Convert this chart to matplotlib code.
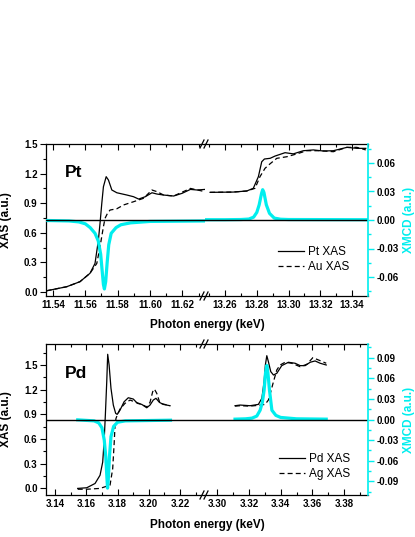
import matplotlib
matplotlib.use("Agg")
import matplotlib.pyplot as plt
from matplotlib.ticker import MultipleLocator, FormatStrFormatter
from matplotlib.lines import Line2D

plt.rcParams['font.family'] = ['Liberation Sans', 'DejaVu Sans']

CYAN = '#00EEEE'

# ---------------- Pt panel data ----------------
pt_left_x = [11.5361, 11.5485, 11.5567, 11.5629, 11.566, 11.5681, 11.5691, 11.5702, 11.5712, 11.5729,
             11.5743, 11.5764, 11.5795, 11.5857, 11.5898, 11.593, 11.5971, 11.6012, 11.6043, 11.6084,
             11.6146, 11.6198, 11.625, 11.6291, 11.634]
pt_left_y = [0.013, 0.054, 0.105, 0.19, 0.29, 0.527, 0.696, 0.90, 1.067, 1.169,
             1.135, 1.034, 1.006, 0.983, 0.966, 0.942, 0.966, 1.006, 0.993, 0.983,
             0.973, 1.0, 1.04, 1.034, 1.04]
au_left_x = [11.5361, 11.5485, 11.5567, 11.5629, 11.5671, 11.5691, 11.5712, 11.5722, 11.5737, 11.5753,
             11.5795, 11.5836, 11.5898, 11.596, 11.6012, 11.6043, 11.6084, 11.6146, 11.625, 11.634]
au_left_y = [0.013, 0.054, 0.105, 0.19, 0.29, 0.459, 0.662, 0.747, 0.797, 0.831,
             0.844, 0.882, 0.915, 0.95, 1.034, 1.017, 0.983, 0.973, 1.05, 1.017]
pt_mcd_left_x = [11.5357, 11.55, 11.556, 11.560, 11.563, 11.566, 11.568, 11.5695, 11.5705, 11.5712,
                 11.5718, 11.5726, 11.5735, 11.5745, 11.576, 11.579, 11.582, 11.588, 11.60, 11.634]
pt_mcd_left_y = [-0.0005, -0.001, -0.002, -0.004, -0.008, -0.014, -0.022, -0.036, -0.055, -0.068,
                 -0.0726, -0.065, -0.045, -0.026, -0.014, -0.008, -0.005, -0.003, -0.0015, -0.001]

pt_right_x = [13.2506, 13.2652, 13.2737, 13.2778, 13.281, 13.2831, 13.2848, 13.2884, 13.2915, 13.2978,
              13.303, 13.3093, 13.3156, 13.3219, 13.3282, 13.3367, 13.343, 13.3486]
pt_right_y = [1.01, 1.013, 1.024, 1.051, 1.169, 1.32, 1.348, 1.355, 1.378, 1.412,
              1.40, 1.432, 1.44, 1.429, 1.432, 1.466, 1.456, 1.456]
au_right_x = [13.2506, 13.2652, 13.2737, 13.2789, 13.282, 13.2852, 13.2884, 13.2926, 13.2989, 13.3052,
              13.3115, 13.32, 13.3282, 13.3367, 13.343, 13.3486]
au_right_y = [1.01, 1.013, 1.024, 1.051, 1.169, 1.254, 1.30, 1.355, 1.371, 1.40,
              1.432, 1.432, 1.422, 1.466, 1.466, 1.44]
pt_mcd_right_x = [13.2475, 13.26, 13.27, 13.275, 13.278, 13.280, 13.2815, 13.283, 13.2837, 13.2845,
                  13.286, 13.288, 13.291, 13.295, 13.30, 13.349]
pt_mcd_right_y = [0.0003, 0.0003, 0.0005, 0.001, 0.003, 0.008, 0.016, 0.028, 0.0319, 0.029,
                  0.016, 0.007, 0.002, 0.0008, 0.0005, 0.0003]

# ---------------- Pd panel data ----------------
pd_left_x = [3.1545, 3.1603, 3.1656, 3.1688, 3.1705, 3.1714, 3.1722, 3.1731, 3.1737, 3.1746,
             3.1758, 3.1773, 3.1788, 3.1798, 3.1816, 3.1842, 3.1869, 3.1901, 3.1927, 3.1955,
             3.1987, 3.2008, 3.2029, 3.2046, 3.2068, 3.2093, 3.2136]
pd_left_y = [0.0, 0.008, 0.06, 0.16, 0.32, 0.57, 0.89, 1.30, 1.63, 1.5,
             1.217, 1.013, 0.912, 0.90, 0.952, 1.053, 1.102, 1.086, 1.034, 1.021,
             0.98, 1.013, 1.074, 1.095, 1.046, 1.021, 1.005]
ag_left_x = [3.1545, 3.1603, 3.1688, 3.1752, 3.1769, 3.1779, 3.1784, 3.179, 3.1798, 3.1816,
             3.1848, 3.188, 3.1912, 3.1955, 3.1987, 3.2008, 3.2025, 3.2036, 3.2051, 3.2072,
             3.2102, 3.2136]
ag_left_y = [-0.01, -0.01, 0.0, 0.04, 0.24, 0.567, 0.77, 0.85, 0.89, 0.965,
             1.034, 1.074, 1.05, 1.021, 0.99, 1.046, 1.175, 1.207, 1.156, 1.034,
             1.021, 1.005]
pd_mcd_left_x = [3.1545, 3.165, 3.168, 3.170, 3.1715, 3.1725, 3.1732, 3.1736, 3.174, 3.1748,
                 3.1758, 3.1775, 3.180, 3.185, 3.2139]
pd_mcd_left_y = [-0.0005, -0.002, -0.005, -0.012, -0.03, -0.055, -0.085, -0.100, -0.09, -0.055,
                 -0.025, -0.01, -0.004, -0.002, -0.001]

pd_right_x = [3.3113, 3.3145, 3.3208, 3.326, 3.3282, 3.3296, 3.3304, 3.3313, 3.3323, 3.3338,
              3.3355, 3.3376, 3.3407, 3.3449, 3.3491, 3.3523, 3.3554, 3.3586, 3.3617, 3.3649, 3.3687]
pd_right_y = [1.005, 1.013, 1.005, 1.021, 1.095, 1.297, 1.50, 1.613, 1.54, 1.419,
              1.378, 1.399, 1.492, 1.533, 1.521, 1.492, 1.492, 1.533, 1.549, 1.521, 1.50]
ag_right_x = [3.3113, 3.3145, 3.3208, 3.326, 3.3302, 3.3323, 3.3338, 3.3355, 3.3376, 3.3397,
              3.3428, 3.347, 3.3523, 3.3565, 3.3603, 3.3638, 3.3687]
ag_right_y = [1.0, 1.005, 1.0, 1.01, 1.021, 1.074, 1.175, 1.297, 1.44, 1.50,
              1.533, 1.521, 1.479, 1.508, 1.589, 1.561, 1.521]
pd_mcd_right_x = [3.3113, 3.318, 3.322, 3.325, 3.3271, 3.3285, 3.3296, 3.3305, 3.3313, 3.332,
                  3.333, 3.3345, 3.337, 3.340, 3.350, 3.3687]
pd_mcd_right_y = [0.0005, 0.001, 0.002, 0.005, 0.0135, 0.025, 0.0425, 0.068, 0.0787, 0.068,
                  0.0425, 0.0135, 0.006, 0.003, 0.001, 0.0005]

W, H = 415, 537
fig = plt.figure(figsize=(W / 100, H / 100), dpi=100)

TICK_FS = 7
LAB_FS = 8.5


def panel(top_px, bot_px, xlimL, xlimR, ylimL, ylimR, yMajL, yMajR,
          xL, yL, xL2, yL2, mL_x, mL_y, xR, yR, xR2, yR2, mR_x, mR_y,
          name, name_px, labels, leg_px):
    bottom = 1 - bot_px / H
    height = (bot_px - top_px) / H
    x0, xb, x1 = 46, 205, 368
    axL = fig.add_axes([x0 / W, bottom, (xb - x0) / W, height])
    axR = fig.add_axes([xb / W, bottom, (x1 - xb) / W, height])
    tL = axL.twinx()
    tR = axR.twinx()

    axL.plot(xL, yL, color='black', lw=0.9, label=labels[0])
    axL.plot(xL2, yL2, color='black', lw=0.9, ls=(0, (4, 2.5)), label=labels[1])
    axR.plot(xR, yR, color='black', lw=0.9, label=labels[0])
    axR.plot(xR2, yR2, color='black', lw=0.9, ls=(0, (4, 2.5)), label=labels[1])
    tL.plot(mL_x, mL_y, color=CYAN, lw=2.3)
    tR.plot(mR_x, mR_y, color=CYAN, lw=2.3)
    tL.axhline(0, color='black', lw=1.0)
    tR.axhline(0, color='black', lw=1.0)

    for a, xl in ((axL, xlimL), (axR, xlimR)):
        a.set_xlim(*xl)
        a.set_ylim(*ylimL)
        a.xaxis.set_major_locator(MultipleLocator(0.02))
        a.xaxis.set_minor_locator(MultipleLocator(0.01))
        a.xaxis.set_major_formatter(FormatStrFormatter('%.2f'))
        a.tick_params(axis='x', which='both', direction='in', top=True, bottom=True,
                      labelsize=TICK_FS, pad=3)
        a.tick_params(axis='x', which='major', length=4, width=0.8)
        a.tick_params(axis='x', which='minor', length=2, width=0.8)
        for lab in a.get_xticklabels():
            lab.set_fontweight('bold')
    for t in (tL, tR):
        t.set_ylim(*ylimR)
        for s in t.spines.values():
            s.set_visible(False)

    axL.spines['right'].set_visible(False)
    axR.spines['left'].set_visible(False)
    axR.spines['right'].set_visible(False)
    axR.tick_params(axis='y', which='both', left=False, right=False, labelleft=False)
    axL.tick_params(axis='y', which='both', right=False)

    axL.yaxis.set_major_locator(MultipleLocator(yMajL))
    axL.yaxis.set_minor_locator(MultipleLocator(yMajL / 2))
    axL.yaxis.set_major_formatter(FormatStrFormatter('%.1f'))
    axL.tick_params(axis='y', which='both', direction='out', labelsize=TICK_FS, width=0.8, pad=2)
    axL.tick_params(axis='y', which='major', length=4)
    axL.tick_params(axis='y', which='minor', length=2)
    for lab in axL.get_yticklabels():
        lab.set_fontweight('bold')
    axL.set_ylabel('XAS (a.u.)', fontsize=LAB_FS, fontweight='bold')
    axL.yaxis.set_label_coords((12 - x0) / (xb - x0), 0.5)

    tL.tick_params(axis='y', which='both', left=False, right=False, labelright=False)
    tR.spines['right'].set_visible(True)
    tR.spines['right'].set_color(CYAN)
    tR.spines['right'].set_linewidth(1.2)
    tR.yaxis.set_major_locator(MultipleLocator(yMajR))
    tR.yaxis.set_minor_locator(MultipleLocator(yMajR / 2))
    tR.yaxis.set_major_formatter(FormatStrFormatter('%.2f'))
    tR.tick_params(axis='y', which='both', direction='out', color=CYAN, width=1.0,
                   labelsize=TICK_FS, pad=2)
    tR.tick_params(axis='y', which='major', length=4)
    tR.tick_params(axis='y', which='minor', length=2)
    for lab in tR.get_yticklabels():
        lab.set_fontweight('bold')
    tR.set_ylabel('XMCD (a.u.)', fontsize=LAB_FS, fontweight='bold', color=CYAN)
    tR.yaxis.set_label_coords(1 + (403 - x1) / (x1 - xb), 0.5)

    for a in (axL, axR):
        for s in ('top', 'bottom', 'left'):
            a.spines[s].set_linewidth(0.9)

    # break marks
    for ypx in (top_px, bot_px):
        for off in (-3, 1):
            xa = (xb + off - 2) / W
            xe = (xb + off + 2) / W
            ya = 1 - (ypx + 4) / H
            ye = 1 - (ypx - 4) / H
            fig.add_artist(Line2D([xa, xe], [ya, ye], color='black', lw=0.9,
                                  transform=fig.transFigure))

    fig.text(name_px[0] / W, 1 - name_px[1] / H, name, fontsize=12.5, fontweight='bold',
             ha='left', va='baseline')

    axR.legend(loc='center left', bbox_to_anchor=(leg_px[0] / W, 1 - leg_px[1] / H),
               bbox_transform=fig.transFigure, frameon=False, fontsize=8.5,
               handlelength=2.2, handletextpad=0.35, borderpad=0, borderaxespad=0,
               labelspacing=0.3)
    return axL, axR


panel(144, 296, (11.5357, 11.634), (13.2474, 13.350), (-0.04, 1.5), (-0.08, 0.08), 0.3, 0.03,
      pt_left_x, pt_left_y, au_left_x, au_left_y, pt_mcd_left_x, pt_mcd_left_y,
      pt_right_x, pt_right_y, au_right_x, au_right_y, pt_mcd_right_x, pt_mcd_right_y,
      'Pt', (65, 177), ['Pt XAS', 'Au XAS'], (278, 259.7))

panel(344, 495, (3.1342, 3.236), (3.2924, 3.395), (-0.08, 1.755), (-0.11, 0.11), 0.3, 0.03,
      pd_left_x, pd_left_y, ag_left_x, ag_left_y, pd_mcd_left_x, pd_mcd_left_y,
      pd_right_x, pd_right_y, ag_right_x, ag_right_y, pd_mcd_right_x, pd_mcd_right_y,
      'Pd', (65, 378), ['Pd XAS', 'Ag XAS'], (279, 466.5))

fig.text(207 / W, 1 - 325 / H, 'Photon energy (keV)', fontsize=LAB_FS, fontweight='bold',
         ha='center', va='center')
fig.text(207 / W, 1 - 525 / H, 'Photon energy (keV)', fontsize=LAB_FS, fontweight='bold',
         ha='center', va='center')

fig.savefig('out.png', dpi=100)
